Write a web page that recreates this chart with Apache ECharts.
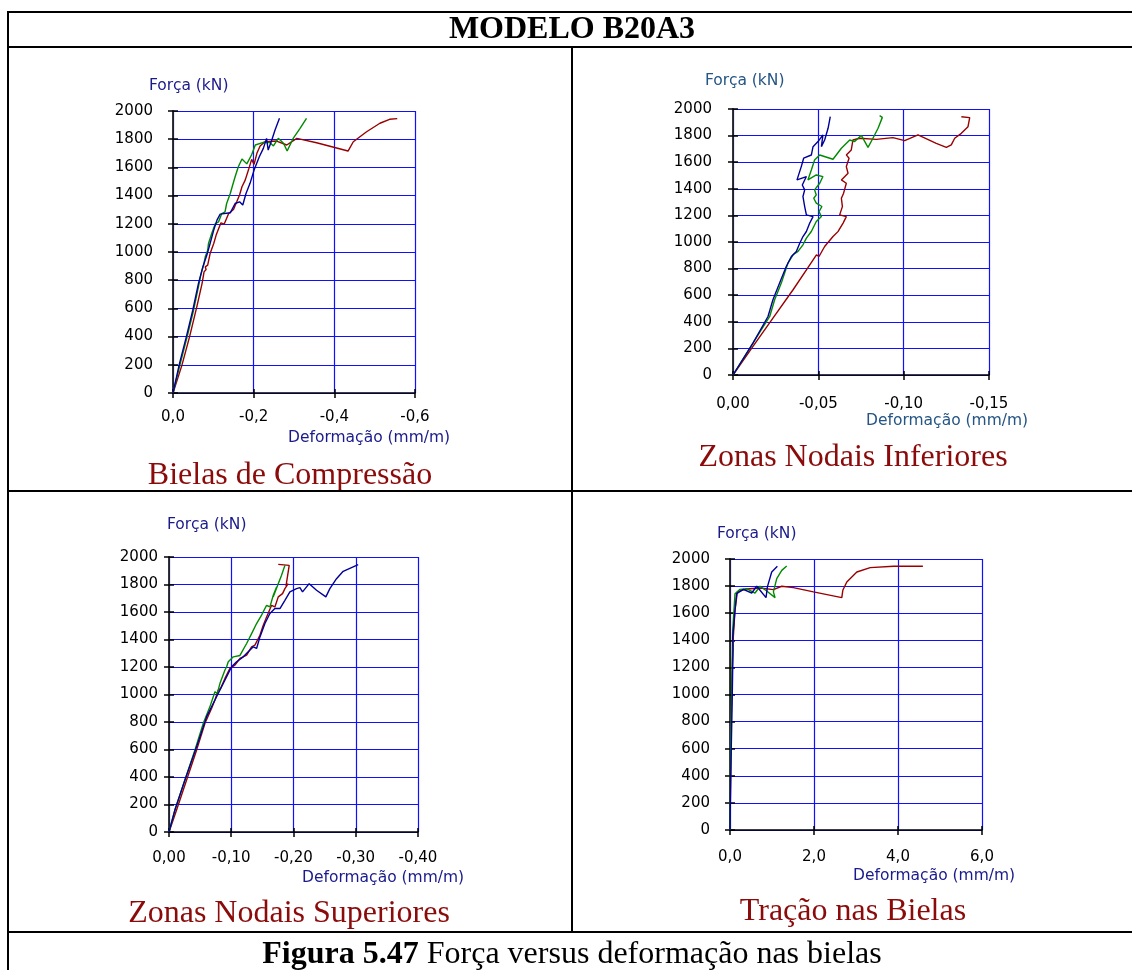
<!DOCTYPE html>
<html>
<head>
<meta charset="utf-8">
<script src="https://cdn.jsdelivr.net/npm/echarts@6/dist/echarts.min.js"></script>
<style>
  html, body { margin: 0; padding: 0; background: #ffffff; }
  #chart { width: 1132px; height: 970px; }
</style>
</head>
<body>
<div id="chart"></div>
<script>
// Modelo B20A3 — força (kN) x deformação (mm/m) nas bielas
// Cada série: pares [deformação, força]

// Bielas de Compressão
const bielasVermelho = [[0,0],[-0.022,196],[-0.041,398],[-0.059,611],[-0.072,776],[-0.077,859],[-0.082,876],[-0.080,895],[-0.086,907],[-0.092,989],[-0.101,1060],[-0.107,1120],[-0.115,1179],[-0.119,1207],[-0.127,1198],[-0.138,1273],[-0.150,1302],[-0.158,1356],[-0.165,1404],[-0.171,1463],[-0.179,1510],[-0.187,1581],[-0.195,1657],[-0.201,1621],[-0.208,1700],[-0.216,1752],[-0.228,1782],[-0.257,1787],[-0.282,1759],[-0.307,1806],[-0.356,1775],[-0.434,1716],[-0.447,1782],[-0.480,1853],[-0.513,1913],[-0.537,1941],[-0.556,1946]];
const bielasVerde = [[0,0],[-0.018,208],[-0.035,398],[-0.051,587],[-0.063,753],[-0.068,824],[-0.072,871],[-0.076,907],[-0.080,966],[-0.086,1013],[-0.088,1060],[-0.096,1131],[-0.105,1202],[-0.113,1214],[-0.121,1273],[-0.129,1285],[-0.133,1344],[-0.142,1415],[-0.148,1475],[-0.154,1534],[-0.162,1605],[-0.171,1660],[-0.183,1625],[-0.195,1690],[-0.204,1759],[-0.224,1778],[-0.240,1776],[-0.249,1752],[-0.261,1806],[-0.274,1771],[-0.283,1716],[-0.298,1806],[-0.315,1877],[-0.331,1948]];
const bielasAzul = [[0,0],[-0.016,208],[-0.033,398],[-0.049,587],[-0.063,776],[-0.074,895],[-0.078,907],[-0.084,978],[-0.092,1060],[-0.101,1155],[-0.109,1226],[-0.117,1269],[-0.142,1278],[-0.154,1344],[-0.165,1356],[-0.173,1333],[-0.181,1415],[-0.191,1487],[-0.201,1581],[-0.214,1676],[-0.224,1735],[-0.232,1806],[-0.236,1723],[-0.245,1794],[-0.253,1865],[-0.264,1948]];

// Zonas Nodais Inferiores
const nodaisInfVermelho = [[0,0],[-0.0117,215],[-0.0234,428],[-0.0352,641],[-0.0440,810],[-0.0489,903],[-0.0504,891],[-0.0537,966],[-0.0586,1041],[-0.0615,1078],[-0.0645,1142],[-0.0664,1191],[-0.0625,1204],[-0.0641,1266],[-0.0635,1329],[-0.0648,1367],[-0.0664,1442],[-0.0635,1467],[-0.0674,1517],[-0.0664,1567],[-0.0680,1630],[-0.0664,1655],[-0.0693,1692],[-0.0703,1767],[-0.0742,1780],[-0.0840,1772],[-0.0937,1785],[-0.1006,1762],[-0.1084,1805],[-0.1191,1742],[-0.1250,1712],[-0.1279,1730],[-0.1299,1780],[-0.1338,1817],[-0.1377,1867],[-0.1387,1935],[-0.1338,1942]];
const nodaisInfVerde = [[0,0],[-0.0117,240],[-0.0215,440],[-0.0244,566],[-0.0283,691],[-0.0322,841],[-0.0352,904],[-0.0381,929],[-0.0410,979],[-0.0430,1029],[-0.0459,1079],[-0.0488,1154],[-0.0518,1191],[-0.0504,1229],[-0.0521,1267],[-0.0488,1292],[-0.0473,1329],[-0.0488,1354],[-0.0478,1392],[-0.0508,1442],[-0.0527,1492],[-0.0488,1504],[-0.0439,1467],[-0.0459,1542],[-0.0478,1617],[-0.0508,1654],[-0.0586,1622],[-0.0635,1705],[-0.0684,1767],[-0.0713,1755],[-0.0752,1802],[-0.0791,1712],[-0.0820,1780],[-0.0850,1855],[-0.0875,1937],[-0.0859,1950]];
const nodaisInfAzul = [[0,0],[-0.0117,240],[-0.0205,440],[-0.0234,566],[-0.0273,691],[-0.0312,816],[-0.0342,891],[-0.0352,879],[-0.0371,929],[-0.0391,991],[-0.0410,1041],[-0.0430,1079],[-0.0449,1141],[-0.0469,1191],[-0.0430,1204],[-0.0420,1266],[-0.0410,1342],[-0.0420,1392],[-0.0406,1429],[-0.0430,1492],[-0.0375,1467],[-0.0400,1567],[-0.0414,1630],[-0.0459,1654],[-0.0469,1717],[-0.0498,1755],[-0.0527,1805],[-0.0518,1717],[-0.0537,1767],[-0.0557,1855],[-0.0570,1942]];

// Zonas Nodais Superiores
const nodaisSupVermelho = [[0,0],[-0.0123,162],[-0.0284,380],[-0.0444,597],[-0.0578,791],[-0.0685,900],[-0.0738,960],[-0.0792,1033],[-0.0829,1045],[-0.0899,1117],[-0.0979,1190],[-0.1059,1214],[-0.1140,1262],[-0.1247,1286],[-0.1327,1347],[-0.1380,1359],[-0.1461,1431],[-0.1514,1504],[-0.1568,1564],[-0.1648,1649],[-0.1701,1637],[-0.1755,1710],[-0.1824,1734],[-0.1862,1770],[-0.1915,1806],[-0.1880,1790],[-0.1931,1939],[-0.1755,1946]];
const nodaisSupVerde = [[0,0],[-0.0096,162],[-0.0257,380],[-0.0417,597],[-0.0551,791],[-0.0658,912],[-0.0685,900],[-0.0738,1020],[-0.0776,1008],[-0.0819,1081],[-0.0899,1178],[-0.0926,1202],[-0.0952,1238],[-0.1033,1274],[-0.1140,1284],[-0.1247,1371],[-0.1327,1443],[-0.1407,1516],[-0.1487,1577],[-0.1568,1649],[-0.1621,1637],[-0.1675,1722],[-0.1728,1782],[-0.1675,1710],[-0.1755,1806],[-0.1808,1867],[-0.1862,1939]];
const nodaisSupAzul = [[0,0],[-0.0096,162],[-0.0257,380],[-0.0444,621],[-0.0605,839],[-0.0712,936],[-0.0819,1033],[-0.0926,1129],[-0.1006,1202],[-0.1086,1238],[-0.1193,1274],[-0.1273,1311],[-0.1354,1347],[-0.1407,1335],[-0.1461,1419],[-0.1541,1516],[-0.1621,1589],[-0.1701,1625],[-0.1782,1625],[-0.1862,1685],[-0.1942,1746],[-0.2049,1770],[-0.2103,1777],[-0.2145,1746],[-0.2252,1806],[-0.2370,1758],[-0.2520,1710],[-0.2584,1770],[-0.2691,1842],[-0.2798,1896],[-0.3039,1944]];

// Tração nas Bielas
const tracaoVermelho = [[0,0],[0.016,393],[0.032,884],[0.048,1130],[0.079,1425],[0.119,1622],[0.175,1757],[0.397,1779],[0.715,1786],[1.033,1774],[1.232,1799],[1.510,1789],[1.987,1757],[2.662,1715],[2.686,1769],[2.781,1830],[3.020,1904],[3.338,1936],[3.894,1946],[4.593,1946]];
const tracaoVerde = [[0,0],[0.016,639],[0.040,983],[0.064,1474],[0.119,1744],[0.238,1776],[0.397,1781],[0.596,1749],[0.715,1799],[0.874,1764],[1.073,1715],[1.033,1757],[1.113,1855],[1.232,1916],[1.351,1948]];
const tracaoAzul = [[0,0],[0.016,393],[0.048,884],[0.072,1339],[0.064,1420],[0.119,1622],[0.159,1744],[0.318,1776],[0.517,1749],[0.636,1799],[0.715,1769],[0.858,1715],[0.890,1794],[0.993,1904],[1.128,1946]];

// Rótulos dos eixos de deformação
const ticksBielas = ['0,0', '-0,2', '-0,4', '-0,6'];
const ticksNodaisInf = ['0,00', '-0,05', '-0,10', '-0,15'];
const ticksNodaisSup = ['0,00', '-0,10', '-0,20', '-0,30', '-0,40'];
const ticksTracao = ['0,0', '2,0', '4,0', '6,0'];

// Títulos
const tituloModelo = 'MODELO B20A3';
const titulosPaineis = ['Bielas de Compressão', 'Zonas Nodais Inferiores', 'Zonas Nodais Superiores', 'Tração nas Bielas'];
const nomeForca = 'Força (kN)';
const nomeDeformacao = 'Deformação (mm/m)';

const COR_VERMELHO = '#990000';
const COR_VERDE = '#008a00';
const COR_AZUL = '#000099';
const COR_GRADE = '#1010ff';
const SANS = '"DejaVu Sans", sans-serif';
const SERIF = '"Liberation Serif", "Times New Roman", serif';

const paineis = [
  { grid: { left: 173, top: 111, width: 242, height: 282 }, xMin: -0.6, xMax: 0, step: 0.2, inverse: true,
    ticks: ticksBielas, series: [bielasVermelho, bielasVerde, bielasAzul],
    yMargin: 20, xMargin: 17, nameColor: '#1a1a8c',
    forcaPos: [149, 86], deformPos: [288, 438], tituloPos: [290, 476] },
  { grid: { left: 733, top: 109, width: 256, height: 266 }, xMin: -0.15, xMax: 0, step: 0.05, inverse: true,
    ticks: ticksNodaisInf, series: [nodaisInfVermelho, nodaisInfVerde, nodaisInfAzul],
    yMargin: 21, xMargin: 22, nameColor: '#245585',
    forcaPos: [705, 81], deformPos: [866, 421], tituloPos: [853, 458] },
  { grid: { left: 169, top: 557, width: 249, height: 275 }, xMin: -0.4, xMax: 0, step: 0.1, inverse: true,
    ticks: ticksNodaisSup, series: [nodaisSupVermelho, nodaisSupVerde, nodaisSupAzul],
    yMargin: 11, xMargin: 19, nameColor: '#1a1a8c',
    forcaPos: [167, 525], deformPos: [302, 878], tituloPos: [289, 914] },
  { grid: { left: 730, top: 559, width: 252, height: 271 }, xMin: 0, xMax: 6, step: 2, inverse: false,
    ticks: ticksTracao, series: [tracaoVermelho, tracaoVerde, tracaoAzul],
    yMargin: 20, xMargin: 20, nameColor: '#1a1a8c',
    forcaPos: [717, 534], deformPos: [853, 876], tituloPos: [853, 912] }
];

const grids = [], xAxes = [], yAxes = [], series = [], graphics = [];
const cores = [COR_VERMELHO, COR_VERDE, COR_AZUL];

paineis.forEach((p, i) => {
  grids.push(Object.assign({ containLabel: false }, p.grid));
  const rotulo = (v) => p.ticks[Math.round(Math.abs(v) / p.step)] || '';
  // eixo x principal (rótulos, marcas para fora, grade azul)
  xAxes.push({
    type: 'value', gridIndex: i, min: p.xMin, max: p.xMax, interval: p.step, inverse: p.inverse,
    axisLine: { show: true, onZero: false, lineStyle: { color: '#000', width: 1.5 } },
    axisTick: { show: true, inside: false, length: 5, lineStyle: { color: '#000', width: 1.5 } },
    axisLabel: { show: true, margin: p.xMargin, color: '#000', fontFamily: SANS, fontSize: 15, formatter: rotulo },
    splitLine: { show: true, lineStyle: { color: COR_GRADE, width: 1.2 } }
  });
  // eixo x auxiliar (marcas para dentro)
  xAxes.push({
    type: 'value', gridIndex: i, min: p.xMin, max: p.xMax, interval: p.step, inverse: p.inverse, position: 'bottom',
    axisLine: { show: false }, axisLabel: { show: false }, splitLine: { show: false },
    axisTick: { show: true, inside: true, length: 4, lineStyle: { color: '#000', width: 1.5 } }
  });
  yAxes.push({
    type: 'value', gridIndex: i, min: 0, max: 2000, interval: 200,
    axisLine: { show: true, onZero: false, lineStyle: { color: '#222', width: 1.8 } },
    axisTick: { show: true, inside: false, length: 5, lineStyle: { color: '#000', width: 1.5 } },
    axisLabel: { show: true, margin: p.yMargin, color: '#000', fontFamily: SANS, fontSize: 15,
      formatter: (v) => String(v) },
    splitLine: { show: true, lineStyle: { color: COR_GRADE, width: 1.2 } }
  });
  yAxes.push({
    type: 'value', gridIndex: i, min: 0, max: 2000, interval: 200, position: 'left',
    axisLine: { show: false }, axisLabel: { show: false }, splitLine: { show: false },
    axisTick: { show: true, inside: true, length: 5, lineStyle: { color: '#000', width: 1.5 } }
  });
  p.series.forEach((d, k) => {
    series.push({
      type: 'line', xAxisIndex: 2 * i, yAxisIndex: 2 * i, data: d,
      showSymbol: false, symbol: 'none', smooth: false, animation: false,
      lineStyle: { color: cores[k], width: 1.4 }, z: 3 + k
    });
  });
  graphics.push({ type: 'text', x: p.forcaPos[0], y: p.forcaPos[1],
    style: { text: nomeForca, fill: p.nameColor, font: '15.5px ' + SANS, textAlign: 'left', textVerticalAlign: 'middle' } });
  graphics.push({ type: 'text', x: p.deformPos[0], y: p.deformPos[1],
    style: { text: nomeDeformacao, fill: p.nameColor, font: '15.5px ' + SANS, textAlign: 'left', textVerticalAlign: 'middle' } });
  graphics.push({ type: 'text', x: p.tituloPos[0], y: p.tituloPos[1],
    style: { text: titulosPaineis[i], fill: '#8b0a0a', font: '32px ' + SERIF, textAlign: 'center', textVerticalAlign: 'middle' } });
});

// Moldura da tabela
const linha = (x1, y1, x2, y2) => ({ type: 'line', shape: { x1, y1, x2, y2 }, style: { stroke: '#000', lineWidth: 2 } });
graphics.push(linha(8, 12, 1132, 12));
graphics.push(linha(8, 47, 1132, 47));
graphics.push(linha(8, 491, 1132, 491));
graphics.push(linha(8, 932, 1132, 932));
graphics.push(linha(8, 11, 8, 970));
graphics.push(linha(572, 47, 572, 932));

graphics.push({ type: 'text', x: 572, y: 30,
  style: { text: tituloModelo, fill: '#000', font: 'bold 32px ' + SERIF, textAlign: 'center', textVerticalAlign: 'middle' } });
graphics.push({ type: 'text', x: 572, y: 955,
  style: { text: '{b|Figura 5.47} Força versus deformação nas bielas', fill: '#000', font: '32px ' + SERIF,
    textAlign: 'center', textVerticalAlign: 'middle',
    rich: { b: { fontWeight: 'bold', fontSize: 32, fontFamily: SERIF } } } });

const chart = echarts.init(document.getElementById('chart'), null, { renderer: 'canvas' });
chart.setOption({
  backgroundColor: '#ffffff',
  animation: false,
  grid: grids,
  xAxis: xAxes,
  yAxis: yAxes,
  series: series,
  graphic: graphics
});
</script>
</body>
</html>
